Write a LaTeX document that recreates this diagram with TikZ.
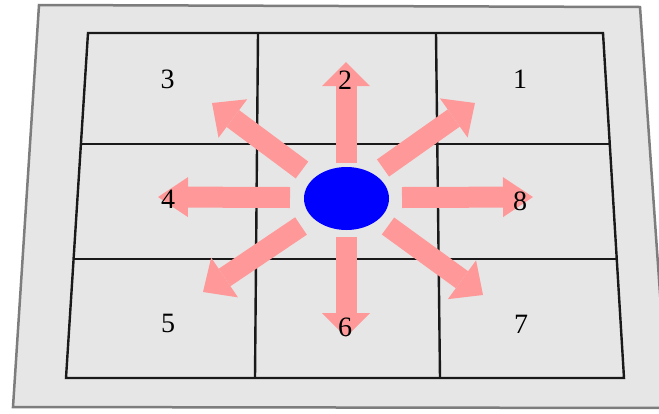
\documentclass[tikz,border=0pt]{standalone}
\usepackage{fontspec}
\setmainfont{Liberation Serif}
\usetikzlibrary{arrows.meta,shapes.geometric}
\definecolor{platefill}{RGB}{230,230,230}
\definecolor{plateedge}{RGB}{125,125,125}
\definecolor{pinkarrow}{RGB}{255,153,153}
\begin{document}
\begin{tikzpicture}[x=1pt,y=-1pt,
  platestyle/.style={fill=platefill, draw=plateedge, line width=2.5pt},
  gridline/.style={draw=black!90, line width=2.4pt},
  fat/.style={draw=pinkarrow, line width=21pt},
  hor/.style={fat, -{Triangle[width=40pt 0, length=30pt 0 0, line width=0pt]}},
  ver/.style={fat, -{Triangle[width=48pt 0, length=24pt 0 0, line width=0pt]}},
  dia/.style={fat, -{Triangle[width=48pt 0, length=26pt 0 0, line width=0pt]}},
  lab/.style={font=\fontsize{28}{28}\selectfont, inner sep=0pt}]
\useasboundingbox (0,0) rectangle (659,413);
\clip (0,0) rectangle (659,413);
% plate
\draw[platestyle] (39,5) -- (640,7) -- (668,408) -- (13,407) -- cycle;
% grid corners
\coordinate (g00) at (88,33);
\coordinate (g10) at (258,33);
\coordinate (g20) at (436,33);
\coordinate (g30) at (603,33);
\coordinate (g03) at (66,378);
\coordinate (g13) at (255,378);
\coordinate (g23) at (440,378);
\coordinate (g33) at (624,378);
\coordinate (l1) at (80.9,144);
\coordinate (r1) at (609.8,144);
\coordinate (l2) at (73.6,259);
\coordinate (r2) at (616.8,259);
\draw[gridline] (g00) -- (g30) -- (g33) -- (g03) -- cycle;
\draw[gridline] (g10) -- (g13);
\draw[gridline] (g20) -- (g23);
\draw[gridline] (l1) -- (r1);
\draw[gridline] (l2) -- (r2);
% arrows
\coordinate (s2) at (346,163); \coordinate (t2) at (346,62);
\coordinate (s6) at (346,237); \coordinate (t6) at (346,337);
\coordinate (s4) at (290,197.5); \coordinate (t4) at (158,197);
\coordinate (s8) at (402,197.5); \coordinate (t8) at (533,197);
\coordinate (s3) at (302,170); \coordinate (t3) at (212,103);
\coordinate (s1) at (383,168); \coordinate (t1) at (475,103);
\coordinate (s5) at (301,226); \coordinate (t5) at (203,292);
\coordinate (s7) at (388,226); \coordinate (t7) at (483,295);
\draw[ver] (s2) -- (t2);
\draw[ver] (s6) -- (t6);
\draw[hor] (s4) -- (t4);
\draw[hor] (s8) -- (t8);
\draw[dia] (s3) -- (t3);
\draw[dia] (s1) -- (t1);
\draw[dia] (s5) -- (t5);
\draw[dia] (s7) -- (t7);
% centre
\node[ellipse, fill=blue, minimum width=85pt, minimum height=63pt, inner sep=0pt] (c) at (346.5,198.5) {};
% labels
\node[lab] (n3) at (167.5,79.5) {3};
\node[lab] (n2) at (345,80) {2};
\node[lab] (n1) at (520,79.5) {1};
\node[lab] (n4) at (168,199) {4};
\node[lab] (n8) at (520,201) {8};
\node[lab] (n5) at (168,323) {5};
\node[lab] (n6) at (345,327) {6};
\node[lab] (n7) at (521,324) {7};
\end{tikzpicture}
\end{document}
